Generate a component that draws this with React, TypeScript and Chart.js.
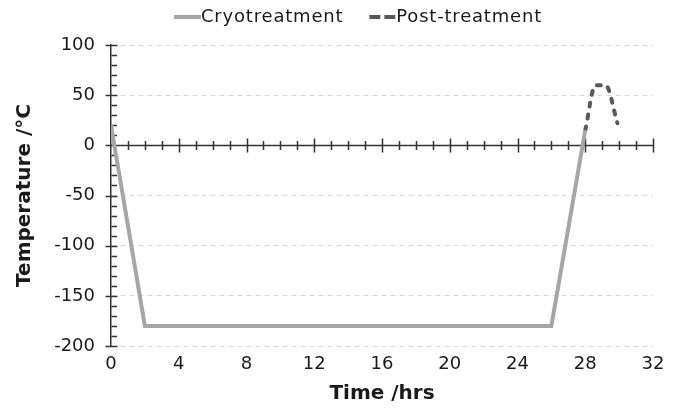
import React, { useEffect, useRef } from "react";
import { Chart, registerables } from "chart.js";

Chart.register(...registerables);

const cryoHours = [0, 2, 26, 28];
const cryoTemps = [20, -180, -180, 15];
const postHours = [28, 28.6, 29.2, 29.9];
const postTemps = [15, 60, 60, 22];
const xTickValues = [0, 4, 8, 12, 16, 20, 24, 28, 32];
const yTickValues = [-200, -150, -100, -50, 0, 50, 100];
const seriesNames = ["Cryotreatment", "Post-treatment"];
const axisTitles = ["Time /hrs", "Temperature /°C"];

const CRYO_COLOR = "#a6a6a6";
const POST_COLOR = "#595959";
const AXIS_COLOR = "#333333";
const TEXT_COLOR = "#1a1a1a";
const FONT = '"DejaVu Sans", sans-serif';

const axisPlugin = {
  id: "axisMarks",
  beforeDatasetsDraw(chart: any) {
    const { ctx, scales } = chart;
    const x = scales.x;
    const y = scales.y;
    const xMin = xTickValues[0];
    const xMax = xTickValues[xTickValues.length - 1];
    const yMin = yTickValues[0];
    const yMax = yTickValues[yTickValues.length - 1];
    ctx.save();
    ctx.strokeStyle = AXIS_COLOR;
    ctx.lineWidth = 1.5;
    ctx.setLineDash([]);
    const y0 = Math.round(y.getPixelForValue(0)) + 0.5;
    ctx.beginPath();
    ctx.moveTo(x.getPixelForValue(xMin), y0);
    ctx.lineTo(x.getPixelForValue(xMax), y0);
    for (let h = xMin + 1; h <= xMax; h++) {
      const px = Math.round(x.getPixelForValue(h)) + 0.5;
      const len = h % 4 === 0 ? 7 : 4.5;
      ctx.moveTo(px, y0 - len);
      ctx.lineTo(px, y0 + len);
    }
    const ax = Math.round(x.getPixelForValue(xMin)) + 0.5;
    for (let v = yMin; v <= yMax; v += 10) {
      const py = Math.round(y.getPixelForValue(v)) + 0.5;
      if (v % 50 === 0) {
        ctx.moveTo(ax - 6, py);
        ctx.lineTo(ax + 6, py);
      } else {
        ctx.moveTo(ax, py);
        ctx.lineTo(ax + 5.5, py);
      }
    }
    ctx.stroke();
    ctx.restore();
  },
  afterDraw(chart: any) {
    const { ctx } = chart;
    ctx.save();
    ctx.font = `18px ${FONT}`;
    (ctx as any).letterSpacing = "0.8px";
    const sw = 27;
    const gap = 26;
    const w0 = ctx.measureText(seriesNames[0]).width;
    const w1 = ctx.measureText(seriesNames[1]).width;
    const total = sw + w0 + gap + sw + w1;
    let sx = chart.width / 2 + 17 - total / 2;
    const ly = 17;
    ctx.lineWidth = 4;
    ctx.strokeStyle = CRYO_COLOR;
    ctx.setLineDash([]);
    ctx.beginPath();
    ctx.moveTo(sx, ly);
    ctx.lineTo(sx + sw, ly);
    ctx.stroke();
    ctx.fillStyle = TEXT_COLOR;
    ctx.textBaseline = "middle";
    ctx.textAlign = "left";
    ctx.fillText(seriesNames[0], sx + sw, ly);
    sx += sw + w0 + gap;
    ctx.strokeStyle = POST_COLOR;
    ctx.setLineDash([11, 4]);
    ctx.beginPath();
    ctx.moveTo(sx, ly);
    ctx.lineTo(sx + sw, ly);
    ctx.stroke();
    ctx.setLineDash([]);
    ctx.fillText(seriesNames[1], sx + sw, ly);
    ctx.restore();
  },
};

export default function App() {
  const canvasRef = useRef<HTMLCanvasElement | null>(null);

  useEffect(() => {
    const canvas = canvasRef.current;
    if (!canvas) return;
    const chart = new Chart(canvas, {
      type: "line",
      data: {
        datasets: [
          {
            label: seriesNames[0],
            data: cryoHours.map((h, i) => ({ x: h, y: cryoTemps[i] })),
            borderColor: CRYO_COLOR,
            backgroundColor: CRYO_COLOR,
            borderWidth: 4,
            pointRadius: 0,
            tension: 0,
            fill: false,
          },
          {
            label: seriesNames[1],
            data: postHours.map((h, i) => ({ x: h, y: postTemps[i] })),
            borderColor: POST_COLOR,
            backgroundColor: POST_COLOR,
            borderWidth: 4,
            borderDash: [4, 8],
            borderCapStyle: "round",
            pointRadius: 0,
            cubicInterpolationMode: "monotone",
            fill: false,
          },
        ],
      },
      options: {
        responsive: false,
        animation: false,
        devicePixelRatio: 1,
        layout: { padding: { top: 45, right: 29, left: 0, bottom: 0 } },
        plugins: {
          legend: { display: false },
          tooltip: { enabled: false },
        },
        scales: {
          x: {
            type: "linear",
            min: xTickValues[0],
            max: xTickValues[xTickValues.length - 1],
            afterBuildTicks: (scale: any) => {
              scale.ticks = xTickValues.map((v) => ({ value: v }));
            },
            afterFit: (scale: any) => {
              scale.height = 64;
            },
            grid: { display: false },
            border: { display: false },
            ticks: {
              color: TEXT_COLOR,
              font: { family: FONT, size: 18 },
              padding: 0,
              maxRotation: 0,
              autoSkip: false,
            },
            title: {
              display: true,
              text: axisTitles[0],
              color: TEXT_COLOR,
              font: { family: FONT, size: 20, weight: "bold" },
              padding: { top: 0, bottom: 4 },
            },
          },
          y: {
            type: "linear",
            min: yTickValues[0],
            max: yTickValues[yTickValues.length - 1],
            afterBuildTicks: (scale: any) => {
              scale.ticks = yTickValues.map((v) => ({ value: v }));
            },
            afterFit: (scale: any) => {
              scale.width = 111;
            },
            grid: {
              color: "#d9d9d9",
              lineWidth: 1,
              drawTicks: false,
            },
            border: { display: true, color: AXIS_COLOR, width: 1.5, dash: [5, 4] },
            ticks: {
              color: TEXT_COLOR,
              font: { family: FONT, size: 18 },
              padding: 16,
              autoSkip: false,
            },
            title: {
              display: true,
              text: axisTitles[1],
              color: TEXT_COLOR,
              font: { family: FONT, size: 20, weight: "bold" },
              padding: { top: 13, bottom: 0 },
            },
          },
        },
      },
      plugins: [axisPlugin],
    } as any);
    return () => chart.destroy();
  }, []);

  return (
    <div style={{ position: "fixed", left: 0, top: 0, width: 682, height: 410 }}>
      <canvas ref={canvasRef} width={682} height={410} />
    </div>
  );
}
